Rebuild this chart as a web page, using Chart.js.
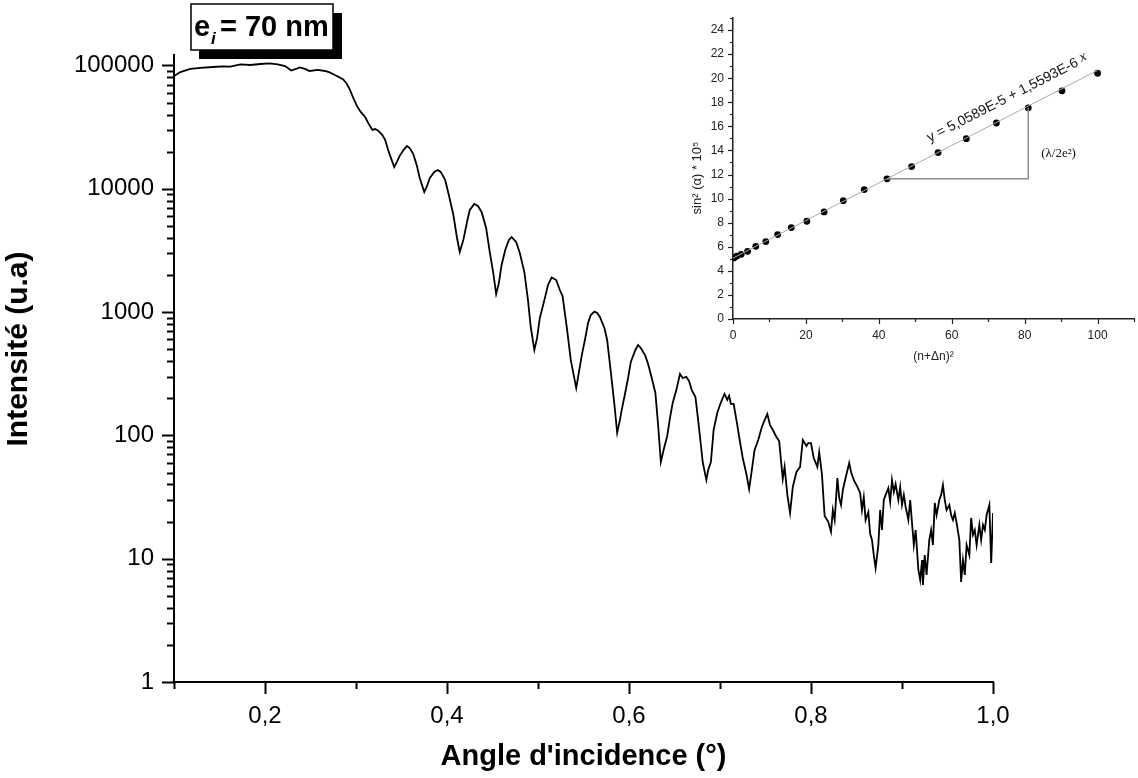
<!DOCTYPE html>
<html>
<head>
<meta charset="utf-8">
<script src="https://cdn.jsdelivr.net/npm/chart.js@4.4.1/dist/chart.umd.min.js"></script>
<style>
  html, body { margin: 0; padding: 0; background: #fff; }
  #wrap { position: relative; width: 1138px; height: 778px; }
  #main { position: absolute; left: 0; top: 0; }
  #inset { position: absolute; left: 690px; top: 0; }
</style>
</head>
<body>
<div id="wrap">
  <canvas id="main" width="1138" height="778"></canvas>
  <canvas id="inset" width="448" height="380"></canvas>
</div>
<script>
// reflectivity curve
const angle = [
  0.100,0.107,0.118,0.129,0.143,0.153,0.162,0.173,0.184,0.195,
  0.205,0.214,0.222,0.229,0.234,0.238,0.244,0.249,0.258,0.266,
  0.271,0.280,0.286,0.290,0.293,0.297,0.301,0.305,0.310,0.314,
  0.318,0.321,0.324,0.329,0.332,0.336,0.342,0.345,0.348,0.353,
  0.356,0.359,0.363,0.367,0.370,0.375,0.378,0.381,0.386,0.390,
  0.393,0.398,0.402,0.407,0.411,0.414,0.418,0.422,0.425,0.430,
  0.434,0.438,0.443,0.447,0.451,0.454,0.457,0.460,0.464,0.468,
  0.471,0.476,0.480,0.485,0.489,0.492,0.496,0.499,0.502,0.507,
  0.511,0.515,0.520,0.524,0.527,0.532,0.536,0.542,0.545,0.548,
  0.552,0.555,0.558,0.562,0.565,0.568,0.573,0.576,0.580,0.584,
  0.587,0.590,0.592,0.596,0.599,0.602,0.607,0.610,0.613,0.618,
  0.621,0.625,0.629,0.632,0.635,0.638,0.642,0.645,0.648,0.652,
  0.656,0.659,0.663,0.666,0.669,0.673,0.676,0.679,0.681,0.685,
  0.687,0.690,0.693,0.697,0.700,0.703,0.705,0.708,0.710,0.712,
  0.715,0.719,0.722,0.725,0.729,0.732,0.735,0.738,0.742,0.746,
  0.749,0.752,0.755,0.758,0.762,0.765,0.767,0.769,0.771,0.774,
  0.777,0.780,0.784,0.788,0.791,0.795,0.797,0.800,0.803,0.807,
  0.809,0.812,0.815,0.819,0.822,0.824,0.826,0.829,0.831,0.833,
  0.835,0.838,0.842,0.844,0.847,0.851,0.854,0.856,0.858,0.860,
  0.863,0.865,0.867,0.869,0.871,0.874,0.876,0.878,0.880,0.882,
  0.885,0.887,0.889,0.891,0.893,0.896,0.898,0.900,0.902,0.904,
  0.907,0.909,0.911,0.913,0.915,0.918,0.920,0.922,0.923,0.925,
  0.927,0.930,0.932,0.934,0.936,0.938,0.941,0.943,0.945,0.947,
  0.949,0.952,0.954,0.956,0.958,0.960,0.963,0.965,0.967,0.969,
  0.971,0.974,0.976,0.978,0.980,0.982,0.985,0.987,0.989,0.991,
  0.993,0.996,0.998,1.000
];
const intensity = [
  82200,88500,93700,95500,97200,98200,97700,101900,100900,102800,
  103800,101900,99000,91000,93700,96400,93700,90200,92000,90200,
  87800,81400,76900,70800,64400,54500,47000,42200,38200,33600,
  30000,30500,29700,27300,24900,19900,15000,16500,18500,21000,
  22200,21400,19100,15300,12200,9420,10500,12200,13700,14200,
  13700,11800,8910,6130,3990,3070,3850,5380,6730,7530,
  7260,6490,4810,3070,2040,1400,1720,2410,3190,3850,
  4060,3710,3010,2110,1250,757,493,617,896,1250,
  1660,1910,1820,1510,1350,716,409,242,327,441,
  617,816,946,1010,984,912,743,594,327,177,
  105,133,161,225,292,394,493,541,512,441,
  379,292,221,121,60.8,76.2,98.9,138,183,233,
  315,292,298,276,233,205,133,83.6,60.8,43.5,
  52.4,60.8,111,152,177,201,217,194,209,180,
  180,121,88.4,65.6,48.6,36.7,52.4,76.2,91.8,117,
  133,149,121,111,97.1,90.1,63.1,44.3,55.5,32.9,
  23.5,38.2,50.5,55.5,91.8,82.0,86.7,86.7,65.6,55.5,
  73.3,48.6,22.2,19.9,16.5,24.8,20.6,45.1,31.1,27.3,
  36.1,45.1,59.7,50.5,43.5,38.2,34.1,24.8,31.6,20.6,
  23.9,15.9,14.2,10.7,8.41,12.9,24.8,17.1,29.9,32.9,
  37.4,28.8,43.5,34.8,40.3,29.9,38.2,27.3,32.9,26.3,
  20.6,29.9,19.5,12.9,17.1,8.10,6.72,9.76,6.12,10.7,
  7.38,14.2,17.1,12.9,28.3,22.6,29.9,32.9,39.6,29.9,
  24.8,27.3,22.6,20.6,23.5,19.5,14.2,6.47,9.76,7.38,
  12.9,10.7,21.4,15.6,17.1,12.9,18.8,14.2,18.8,17.1,
  22.6,27.3,9.23,23.5
];

const xMajorTicks = [0.2, 0.4, 0.6, 0.8, 1.0];
const xMinorTicks = [0.1, 0.3, 0.5, 0.7, 0.9];
const yMajorTicks = [1, 10, 100, 1000, 10000, 100000];

// inset: fringe positions and linear fit
const fringeX = [0.25, 1, 2.25, 4, 6.25, 9, 12.25, 16, 20.25, 25, 30.25, 36, 42.25, 49, 56.25, 64, 72.25, 81, 90.25, 100];
const fringeY = [5.07, 5.21, 5.37, 5.62, 6.04, 6.43, 7.01, 7.59, 8.12, 8.89, 9.83, 10.75, 11.64, 12.66, 13.82, 14.98, 16.28, 17.54, 18.95, 20.41];
const fitX = [0, 100];
const fitY = [5.0589, 20.65];
const slopeX = [42.25, 81, 81];
const slopeY = [11.64, 11.64, 17.54];
const insetXLabels = [0, 20, 40, 60, 80, 100];
const insetYLabels = [0, 2, 4, 6, 8, 10, 12, 14, 16, 18, 20, 22, 24];

Chart.defaults.font.family = '"Liberation Sans", Arial, sans-serif';
Chart.defaults.color = '#000';

const toPoints = (xs, ys) => xs.map((x, i) => ({ x: x, y: ys[i] }));

// draws outward tick marks, long ones where a label exists
const tickMarks = {
  id: 'tickMarks',
  afterDraw(chart, args, opts) {
    const ctx = chart.ctx;
    const xs = chart.scales.x;
    const ys = chart.scales.y;
    ctx.save();
    ctx.strokeStyle = opts.color;
    ctx.lineWidth = opts.width;
    xs.ticks.forEach(t => {
      const px = Math.round(xs.getPixelForValue(t.value)) + 0.5;
      const len = t.label !== '' ? opts.major : opts.minor;
      ctx.beginPath();
      ctx.moveTo(px, xs.top);
      ctx.lineTo(px, xs.top + len);
      ctx.stroke();
    });
    ys.ticks.forEach(t => {
      const py = Math.round(ys.getPixelForValue(t.value)) + 0.5;
      const len = t.label !== '' ? opts.major : opts.minor;
      ctx.beginPath();
      ctx.moveTo(ys.right, py);
      ctx.lineTo(ys.right - len, py);
      ctx.stroke();
    });
    ctx.restore();
  }
};

// vertical axis title placed where the original has it (not centred on the axis)
const sideTitle = {
  id: 'sideTitle',
  afterDraw(chart, args, opts) {
    const ctx = chart.ctx;
    ctx.save();
    ctx.fillStyle = opts.color;
    ctx.font = opts.font;
    ctx.textAlign = 'center';
    ctx.textBaseline = 'middle';
    ctx.translate(opts.x, opts.y);
    ctx.rotate(-Math.PI / 2);
    ctx.fillText(opts.text, 0, 0);
    ctx.restore();
  }
};

const thicknessBox = {
  id: 'thicknessBox',
  afterDraw(chart) {
    const ctx = chart.ctx;
    ctx.save();
    ctx.fillStyle = '#000';
    ctx.fillRect(199, 13, 143, 46);
    ctx.fillStyle = '#fff';
    ctx.fillRect(191, 4, 142, 46);
    ctx.strokeStyle = '#000';
    ctx.lineWidth = 1.5;
    ctx.strokeRect(191, 4, 142, 46);
    ctx.fillStyle = '#000';
    ctx.textBaseline = 'alphabetic';
    ctx.font = 'bold 29px "Liberation Sans", Arial, sans-serif';
    ctx.fillText('e', 194, 36);
    ctx.fillText('= 70 nm', 220, 36);
    ctx.font = 'italic bold 17px "Liberation Sans", Arial, sans-serif';
    ctx.fillText('i', 211, 44);
    ctx.restore();
  }
};

new Chart(document.getElementById('main'), {
  type: 'line',
  data: {
    datasets: [{
      data: toPoints(angle, intensity),
      borderColor: '#000',
      borderWidth: 1.8,
      pointRadius: 0,
      tension: 0,
      fill: false
    }]
  },
  options: {
    responsive: false,
    animation: false,
    layout: { padding: { top: 55, right: 145, left: 0, bottom: 0 } },
    plugins: {
      legend: { display: false },
      tooltip: { enabled: false },
      tickMarks: { color: '#000', width: 2, major: 12, minor: 7 },
      sideTitle: {
        text: 'Intensité (u.a)',
        font: 'bold 30px "Liberation Sans", Arial, sans-serif',
        color: '#000',
        x: 18.5,
        y: 349
      }
    },
    scales: {
      x: {
        type: 'linear',
        min: 0.1,
        max: 1.0,
        afterBuildTicks: axis => {
          axis.ticks = xMinorTicks.concat(xMajorTicks).sort((a, b) => a - b).map(v => ({ value: v }));
        },
        afterFit: axis => { axis.height = 96; },
        grid: { display: false, drawTicks: true, tickLength: 12 },
        border: { display: true, color: '#000', width: 2 },
        ticks: {
          autoSkip: false,
          maxRotation: 0,
          padding: 8,
          font: { size: 24 },
          callback: v => {
            const i = xMajorTicks.findIndex(m => Math.abs(m - v) < 1e-6);
            return i < 0 ? '' : xMajorTicks[i].toFixed(1).replace('.', ',');
          }
        },
        title: {
          display: true,
          text: "Angle d'incidence (°)",
          font: { size: 29, weight: 'bold' },
          padding: { top: 0, bottom: 4 }
        }
      },
      y: {
        type: 'logarithmic',
        min: 1,
        max: 121600,
        afterBuildTicks: axis => {
          const vals = [];
          yMajorTicks.forEach(d => {
            for (let m = 1; m < 10; m++) {
              if (d * m <= axis.max) vals.push(d * m);
            }
          });
          axis.ticks = vals.map(v => ({ value: v }));
        },
        afterFit: axis => { axis.width = 174; },
        grid: { display: false, drawTicks: true, tickLength: 12 },
        border: { display: true, color: '#000', width: 2 },
        ticks: {
          autoSkip: false,
          padding: 8,
          font: { size: 24 },
          callback: v => yMajorTicks.includes(v) ? String(v) : ''
        },
        title: { display: false }
      }
    }
  },
  plugins: [tickMarks, sideTitle, thicknessBox]
});

// inset annotations: fit equation along the line and slope label
const insetNotes = {
  id: 'insetNotes',
  afterDatasetsDraw(chart) {
    const ctx = chart.ctx;
    const xs = chart.scales.x;
    const ys = chart.scales.y;
    ctx.save();
    ctx.fillStyle = '#111';
    const cx = xs.getPixelForValue(75.2);
    const cy = ys.getPixelForValue(18.34);
    const eq = 'y = 5,0589E-5 + 1,5593E-6 ';
    ctx.font = '14px "Liberation Sans", Arial, sans-serif';
    const w1 = ctx.measureText(eq).width;
    ctx.font = 'italic 14px "Liberation Serif", "Times New Roman", serif';
    const w2 = ctx.measureText('x').width;
    ctx.translate(cx, cy);
    ctx.rotate(-27.2 * Math.PI / 180);
    ctx.textBaseline = 'middle';
    ctx.font = '14px "Liberation Sans", Arial, sans-serif';
    ctx.fillText(eq, -(w1 + w2) / 2, 0);
    ctx.font = 'italic 14px "Liberation Serif", "Times New Roman", serif';
    ctx.fillText('x', -(w1 + w2) / 2 + w1, -2);
    ctx.restore();

    ctx.save();
    ctx.fillStyle = '#111';
    ctx.font = '13px "Liberation Serif", "Times New Roman", serif';
    ctx.textAlign = 'center';
    ctx.textBaseline = 'middle';
    ctx.fillText('(λ/2e²)', xs.getPixelForValue(89.3), ys.getPixelForValue(13.7));
    ctx.restore();
  }
};

new Chart(document.getElementById('inset'), {
  type: 'line',
  data: {
    datasets: [
      {
        data: toPoints(fitX, fitY),
        borderColor: '#aaa',
        borderWidth: 1,
        pointRadius: 0
      },
      {
        data: toPoints(slopeX, slopeY),
        borderColor: '#8c8c8c',
        borderWidth: 1.5,
        pointRadius: 0
      },
      {
        data: toPoints(fringeX, fringeY),
        showLine: false,
        pointRadius: 3.4,
        pointBackgroundColor: '#000',
        pointBorderColor: '#000',
        pointBorderWidth: 0
      }
    ]
  },
  options: {
    responsive: false,
    animation: false,
    layout: { padding: { top: 18, right: 0, left: 0, bottom: 0 } },
    plugins: {
      legend: { display: false },
      tooltip: { enabled: false },
      tickMarks: { color: '#222', width: 1.2, major: 5, minor: 3 },
      sideTitle: {
        text: 'sin² (α) * 10⁵',
        font: '13px "Liberation Sans", Arial, sans-serif',
        color: '#222',
        x: 7.5,
        y: 178
      }
    },
    scales: {
      x: {
        type: 'linear',
        min: 0,
        max: 110,
        afterBuildTicks: axis => {
          const vals = [];
          for (let v = 0; v <= 110; v += 10) vals.push(v);
          axis.ticks = vals.map(v => ({ value: v }));
        },
        afterFit: axis => { axis.height = 61; },
        grid: { display: false, drawTicks: true, tickLength: 5 },
        border: { display: true, color: '#222', width: 1.5 },
        ticks: {
          autoSkip: false,
          maxRotation: 0,
          padding: 4,
          color: '#222',
          font: { size: 12 },
          callback: v => insetXLabels.includes(v) ? String(v) : ''
        },
        title: {
          display: true,
          text: '(n+Δn)²',
          color: '#222',
          font: { size: 12 },
          padding: { top: 0, bottom: 16 }
        }
      },
      y: {
        type: 'linear',
        min: 0,
        max: 25,
        afterBuildTicks: axis => {
          const vals = [];
          for (let v = 0; v <= 25; v++) vals.push(v);
          axis.ticks = vals.map(v => ({ value: v }));
        },
        afterFit: axis => { axis.width = 43; },
        grid: { display: false, drawTicks: true, tickLength: 5 },
        border: { display: true, color: '#222', width: 1.5 },
        ticks: {
          autoSkip: false,
          padding: 4,
          color: '#222',
          font: { size: 12 },
          callback: v => insetYLabels.includes(v) ? String(v) : ''
        },
        title: { display: false }
      }
    }
  },
  plugins: [tickMarks, sideTitle, insetNotes]
});
</script>
</body>
</html>
